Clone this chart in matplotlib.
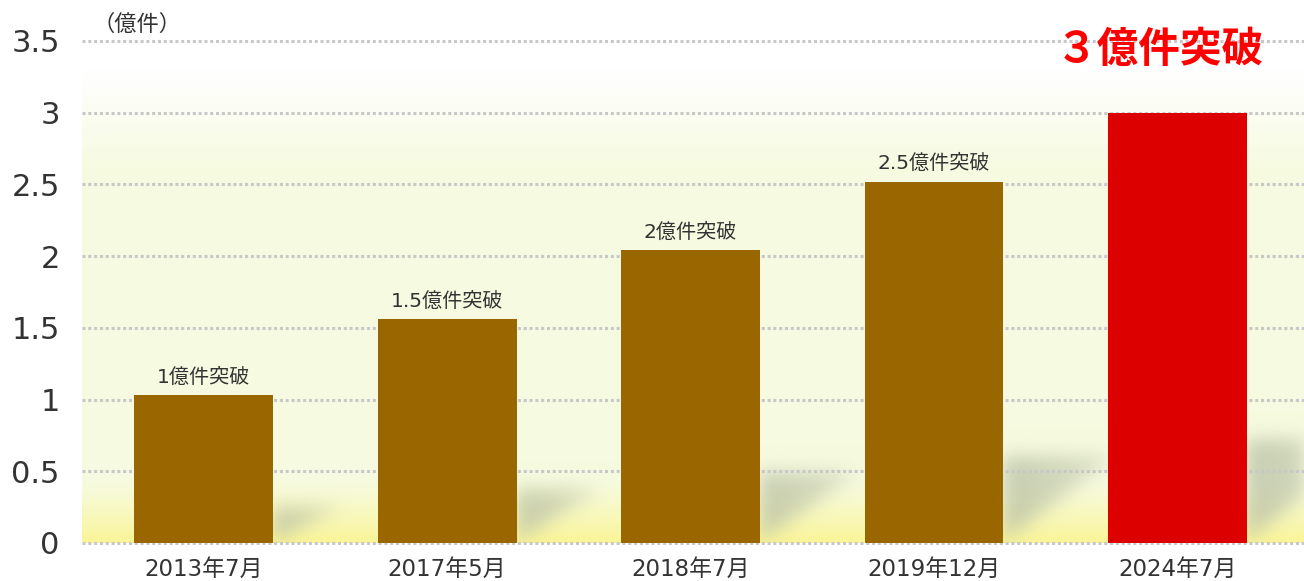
import numpy as np
import matplotlib
matplotlib.use("Agg")
import matplotlib.pyplot as plt

plt.rcParams['font.family'] = ['DejaVu Sans', 'Noto Sans CJK JP']

# データ（億件）
periods = ["2013年7月", "2017年5月", "2018年7月", "2019年12月", "2024年7月"]
values = [1.03, 1.56, 2.04, 2.52, 3.0]
bar_labels = ["1億件突破", "1.5億件突破", "2億件突破", "2.5億件突破", ""]
bar_colors = ["#996600", "#996600", "#996600", "#996600", "#dd0000"]
y_ticks = [0, 0.5, 1, 1.5, 2, 2.5, 3, 3.5]
y_ticklabels = ["0", "0.5", "1", "1.5", "2", "2.5", "3", "3.5"]

W, H = 1304, 581
fig = plt.figure(figsize=(W / 100, H / 100), dpi=100)
ax = fig.add_axes([82 / W, 38 / H, 1 - 82 / W, 502 / H])

x = np.arange(len(periods))
bw = 0.57
xmin, xmax = -0.5, 4.52
ymin, ymax = 0, 3.5

# 背景グラデーション + 影
nx, ny = 1222, 502
gx = np.linspace(xmin, xmax, nx)
gy = np.linspace(ymin, ymax, ny)
XX, YY = np.meshgrid(gx, gy)

top = np.array([255, 255, 255]) / 255
mid = np.array([246, 251, 224]) / 255
bot = np.array([250, 245, 150]) / 255
t1 = np.clip((YY - 2.6) / 0.7, 0, 1)[..., None]
t2 = np.clip((0.45 - YY) / 0.45, 0, 1)[..., None] ** 1.3
bg = mid * (1 - t1) + top * t1
bg = bg * (1 - t2) + bot * t2

shadow = np.zeros_like(XX)
for xi, v in zip(x, values):
    r = xi + bw / 2
    h = 0.24 * v
    L = 0.45 * h + 0.14
    u = (XX - r) / L
    lower = h * (0.0 + 0.9 * u)
    m = (u > 0) & (u < 1.15) & (YY < h) & (YY > lower)
    shadow = np.maximum(shadow, m * (1 - 0.4 * np.clip(u, 0, 1)))


def blur(a, s):
    k = np.exp(-0.5 * (np.arange(-3 * s, 3 * s + 1) / s) ** 2)
    k /= k.sum()
    a = np.apply_along_axis(lambda c: np.convolve(c, k, mode="same"), 0, a)
    a = np.apply_along_axis(lambda c: np.convolve(c, k, mode="same"), 1, a)
    return a


shadow = blur(shadow, 9)
shade = np.array([188, 194, 165]) / 255
a = 0.8 * shadow[..., None]
img = bg * (1 - a) + shade * a
ax.imshow(img, extent=[xmin, xmax, ymin, ymax], origin="lower",
          aspect="auto", zorder=0, interpolation="bilinear")

# グリッド
for yt in y_ticks:
    ax.axhline(yt, color="#c8c8c8", lw=2.2, linestyle=(0, (1, 0.9)), zorder=1,
               clip_on=False)

ax.bar(x, values, width=bw, color=bar_colors, zorder=2)

for xi, v, lab in zip(x, values, bar_labels):
    if lab:
        ax.text(xi, v + 0.06, lab, ha="center", va="bottom", fontsize=14.5,
                color="#333333", zorder=3)

ax.set_xlim(xmin, xmax)
ax.set_ylim(ymin, ymax)
ax.set_yticks(y_ticks)
ax.set_yticklabels(y_ticklabels, fontsize=22, color="#333333")
ax.set_xticks(x)
ax.set_xticklabels(periods, fontsize=16.5, color="#333333")
ax.tick_params(axis="both", length=0)
ax.tick_params(axis="y", pad=16)
ax.tick_params(axis="x", pad=11)
for s in ax.spines.values():
    s.set_visible(False)

fig.text(93 / W, 1 - 24 / H, "（億件）", fontsize=16, color="#333333",
         ha="left", va="center", family=['Noto Sans CJK JP'])
fig.text(1160 / W, 1 - 50 / H, "３億件突破", fontsize=30, color="#ff0000",
         fontweight="bold", ha="center", va="center",
         family=['Noto Sans CJK JP'])

fig.savefig("out.png", dpi=100)
